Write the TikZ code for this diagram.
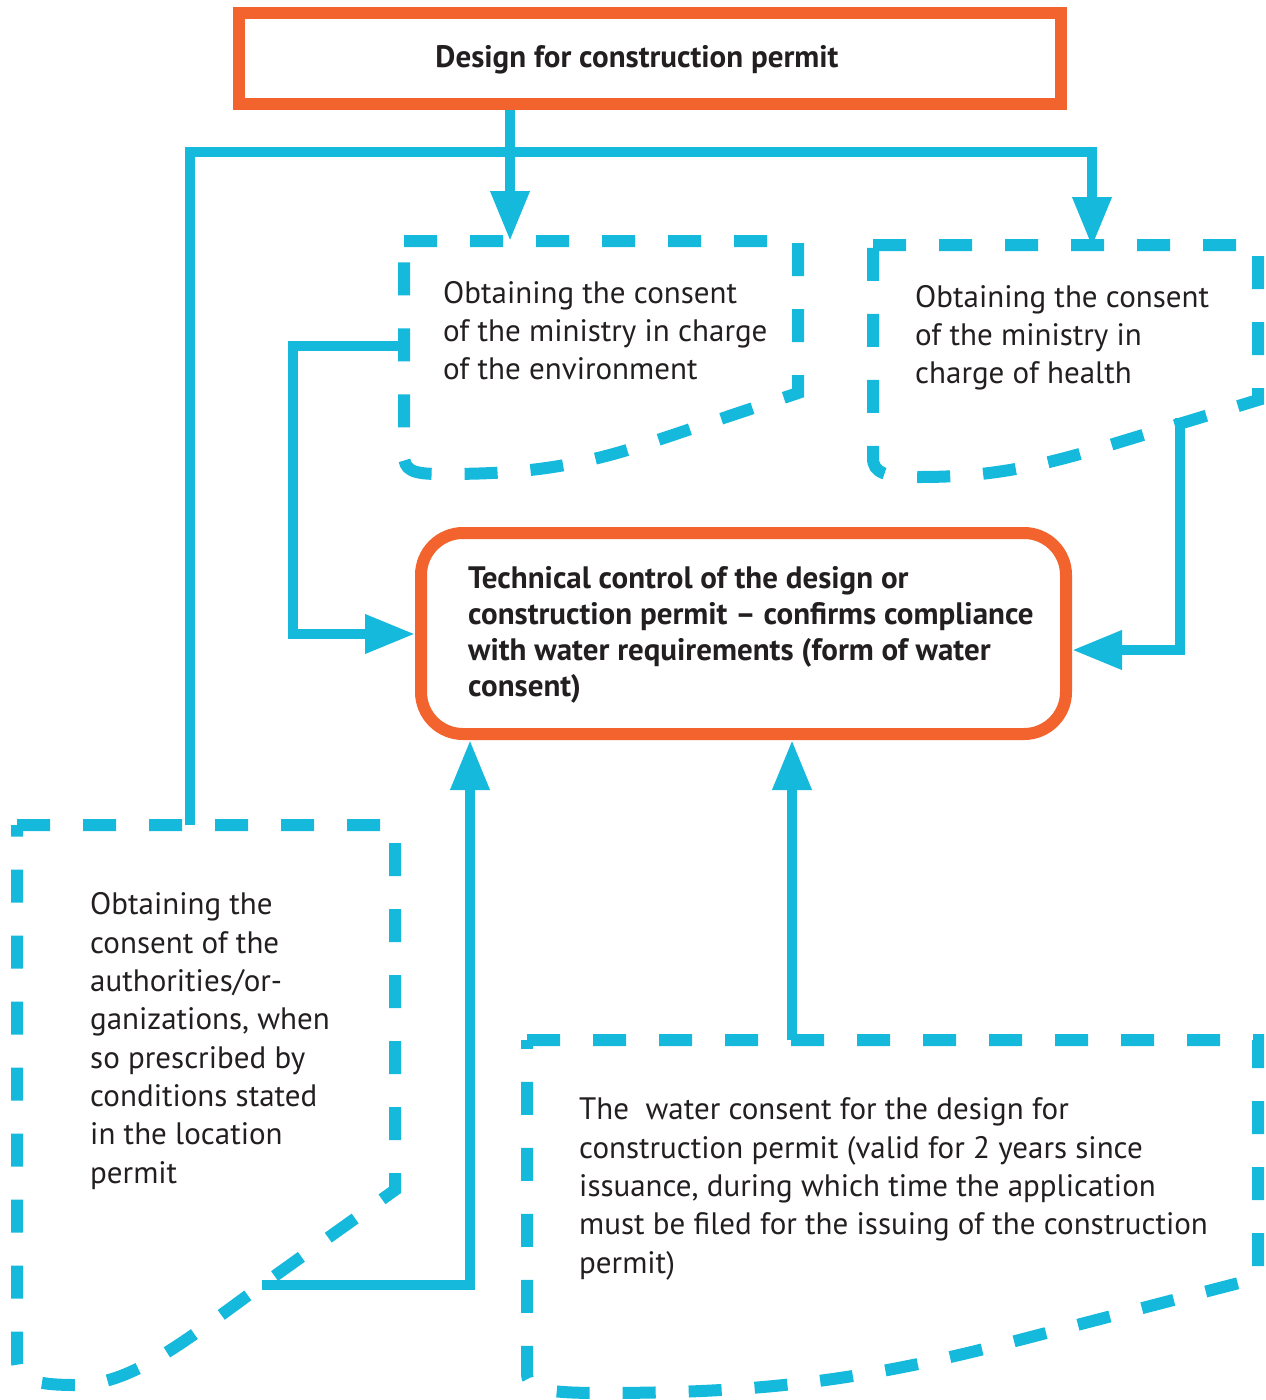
\documentclass[tikz,border=0pt]{standalone}
\usepackage{fontspec}
\setmainfont{PT Sans}
\usetikzlibrary{arrows.meta}
\definecolor{orng}{RGB}{242,99,46}
\definecolor{blu}{RGB}{20,185,220}
\definecolor{textc}{RGB}{35,31,32}
\begin{document}
\begin{tikzpicture}[x=1pt,y=-1pt,line join=miter,
  conn/.style={draw=blu,line width=10pt},
  arr/.style={conn,-{Triangle[length=50pt,width=37pt]}},
  dbox/.style={draw=blu,line width=12pt,dash pattern=on 33pt off 33pt},
  obox/.style={draw=orng,line width=12pt,fill=white},
  txt/.style={anchor=base west,align=left,inner sep=0pt,text=textc,font=\fontsize{31}{38.3}\selectfont},
  btxt/.style={anchor=base west,align=left,inner sep=0pt,text=textc,font=\bfseries\fontsize{31}{36}\selectfont}]
\useasboundingbox (0,0) rectangle (1266,1400);

% dashed boxes
\draw[dbox] (404,241) -- (798,241) -- (798,393) -- (640,446)
  .. controls (560,472) and (500,474) .. (440,474)
  .. controls (412,474) and (404,470) .. (404,455) -- cycle;
\draw[dbox] (873,245) -- (1258,245) -- (1258,400) -- (1110,445)
  .. controls (1030,470) and (980,477) .. (920,477)
  .. controls (885,477) and (873,473) .. (873,458) -- cycle;
\draw[dbox] (17,825) -- (395,825) -- (395,1190) -- (262,1285)
  .. controls (180,1345) and (130,1385) .. (75,1385)
  .. controls (30,1385) and (17,1378) .. (17,1360) -- cycle;
\draw[dbox] (527,1040) -- (1258,1040) -- (1258,1278) -- (1000,1345)
  .. controls (850,1383) and (750,1393) .. (600,1393)
  .. controls (540,1393) and (527,1388) .. (527,1373) -- cycle;

% main boxes
\node[obox,minimum width=822pt,minimum height=91pt] (design) at (650,58.5) {};
\node[btxt,anchor=base] (designtxt) at (637,67) {Design for construction permit};
\node[obox,rounded corners=42pt,minimum width=645pt,minimum height=201pt] (tech) at (743.5,633.5) {};
\node[btxt] (techtxt) at (468,696) {Technical control of the design or\\construction permit -- confirms compliance\\with water requirements (form of water\\consent)};

% texts (anchored at the baseline of the last line)
\node[txt] (envtxt) at (443,379.6) {Obtaining the consent\\of the ministry in charge\\of the environment};
\node[txt] (healthtxt) at (915,383.6) {Obtaining the consent\\of the ministry in\\charge of health};
\node[txt] (authtxt) at (90,1183) {Obtaining the\\consent of the\\authorities/or-\\ganizations, when\\so prescribed by\\conditions stated\\in the location\\permit};
\node[txt] (watertxt) at (579,1273) {The\ \ water consent for the design for\\construction permit (valid for 2 years since\\issuance, during which time the application\\must be filed for the issuing of the construction\\permit)};

% connector coordinates
\coordinate (envtop) at (510,241);
\coordinate (hlttop) at (1092,247);
\coordinate (split) at (1092,152);
\coordinate (authtop) at (190,825);
\coordinate (envleft) at (404,346);
\coordinate (envbend) at (293,634);
\coordinate (hltout) at (1180,418);
\coordinate (hlty) at (0,650);
\coordinate (authout) at (262,1285);
\coordinate (authx) at (470,0);
\coordinate (wattop) at (792,1040);

% connectors
\draw[arr] (design.south -| envtop) -- (envtop);
\draw[arr] (authtop) |- (split) -- (hlttop);
\draw[arr] (envleft) -| (envbend) -- (tech.west |- envbend);
\draw[arr] (hltout) |- (tech.east |- hlty);
\draw[arr] (authout) -| (tech.south -| authx);
\draw[arr] (wattop) -- (tech.south -| wattop);
\end{tikzpicture}
\end{document}
